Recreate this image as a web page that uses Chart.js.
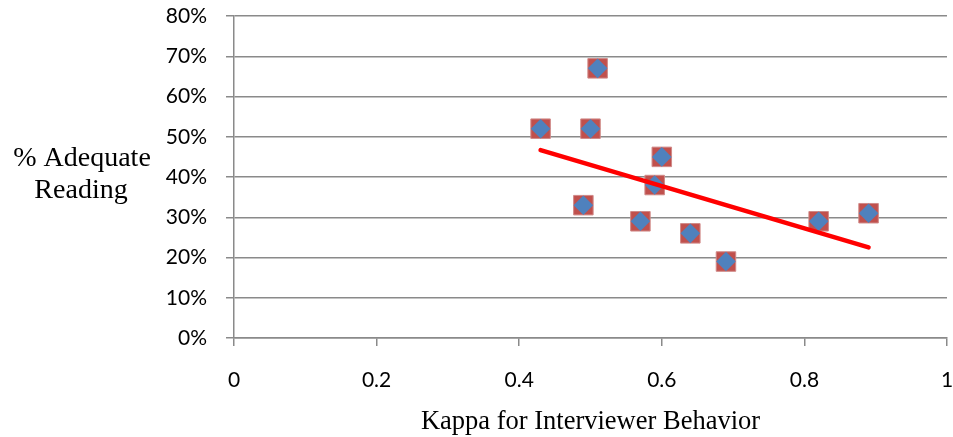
<!DOCTYPE html>
<html>
<head>
<meta charset="utf-8">
<script src="https://cdn.jsdelivr.net/npm/chart.js@4/dist/chart.umd.min.js"></script>
<style>
  html, body { margin: 0; padding: 0; background: #ffffff; }
  #wrap { position: relative; width: 953px; height: 437px; }
</style>
</head>
<body>
<div id="wrap"><canvas id="chart" width="953" height="437"></canvas></div>
<script>
// Interviewer agreement (kappa) against share of adequately read questions
const kappa = [0.43, 0.50, 0.51, 0.60, 0.59, 0.49, 0.57, 0.64, 0.69, 0.82, 0.89];
const adequatePct = [52, 52, 67, 45, 38, 33, 29, 26, 19, 29, 31];

// Linear trend line end points
const trendKappa = [0.43, 0.89];
const trendPct = [46.7, 22.5];

// Axis ticks
const xTicks = [0, 0.2, 0.4, 0.6, 0.8, 1];
const yTicks = [0, 10, 20, 30, 40, 50, 60, 70, 80];

const yTitleLines = ['% Adequate', 'Reading'];
const xTitle = 'Kappa for Interviewer Behavior';

const points = kappa.map((k, i) => ({ x: k, y: adequatePct[i] }));
const trend = trendKappa.map((k, i) => ({ x: k, y: trendPct[i] }));

const GRID = '#8a8a8a';
const TICK_FONT = { family: 'Lato, "Liberation Sans", sans-serif', size: 21 };
const SERIF = '"Liberation Serif", "Times New Roman", serif';

// Horizontal, two-line title to the left of the value axis
const yTitlePlugin = {
  id: 'yTitle',
  afterDraw(chart) {
    const ctx = chart.ctx;
    ctx.save();
    ctx.fillStyle = '#000000';
    ctx.font = '28px ' + SERIF;
    ctx.textAlign = 'center';
    ctx.textBaseline = 'alphabetic';
    ctx.fillText(yTitleLines[0], 82, 166);
    ctx.fillText(yTitleLines[1], 81, 198);
    ctx.restore();
  }
};

// Keep the plot frame where the layout padding puts it
function noOverflowPadding(scale) {
  scale.paddingLeft = 0;
  scale.paddingRight = 0;
  scale.paddingTop = 0;
  scale.paddingBottom = 0;
}

new Chart(document.getElementById('chart'), {
  type: 'scatter',
  data: {
    datasets: [
      {
        label: 'Linear trend',
        type: 'line',
        data: trend,
        borderColor: '#ff0000',
        borderWidth: 4.5,
        borderCapStyle: 'round',
        pointRadius: 0,
        fill: false,
        order: 0
      },
      {
        label: 'Adequate reading',
        data: points,
        pointStyle: 'rectRot',
        pointRadius: 9.8,
        pointHoverRadius: 9.8,
        backgroundColor: '#4f81bd',
        borderWidth: 0,
        order: 1
      },
      {
        label: 'Adequate reading (frame)',
        data: points,
        pointStyle: 'rect',
        pointRadius: 13.8,
        pointHoverRadius: 13.8,
        backgroundColor: '#c0504d',
        borderColor: '#d08a88',
        borderWidth: 1,
        order: 2
      }
    ]
  },
  options: {
    responsive: false,
    animation: false,
    events: [],
    layout: { autoPadding: false, padding: { left: 0, right: 6, top: 16, bottom: 0 } },
    plugins: {
      legend: { display: false },
      tooltip: { enabled: false }
    },
    scales: {
      x: {
        type: 'linear',
        min: 0,
        max: 1,
        afterBuildTicks(scale) { scale.ticks = xTicks.map(v => ({ value: v })); },
        afterFit(scale) { scale.height = 99; noOverflowPadding(scale); },
        border: { display: true, color: GRID, width: 1.5 },
        grid: {
          drawOnChartArea: false,
          drawTicks: true,
          tickLength: 8,
          color: GRID,
          lineWidth: 1.5
        },
        ticks: {
          color: '#000000',
          font: TICK_FONT,
          padding: 22,
          maxRotation: 0,
          callback: v => String(v)
        },
        title: {
          display: true,
          text: xTitle,
          color: '#000000',
          font: { family: SERIF, size: 26.5 },
          padding: { top: 0, bottom: -1 }
        }
      },
      y: {
        type: 'linear',
        min: 0,
        max: 80,
        afterBuildTicks(scale) { scale.ticks = yTicks.map(v => ({ value: v })); },
        afterFit(scale) { scale.width = 234; noOverflowPadding(scale); },
        border: { display: true, color: GRID, width: 1.5 },
        grid: {
          drawOnChartArea: true,
          drawTicks: true,
          tickLength: 8,
          color: GRID,
          lineWidth: 1.5
        },
        ticks: {
          color: '#000000',
          font: TICK_FONT,
          padding: 19,
          callback: v => v + '%'
        }
      }
    }
  },
  plugins: [yTitlePlugin]
});
</script>
</body>
</html>
